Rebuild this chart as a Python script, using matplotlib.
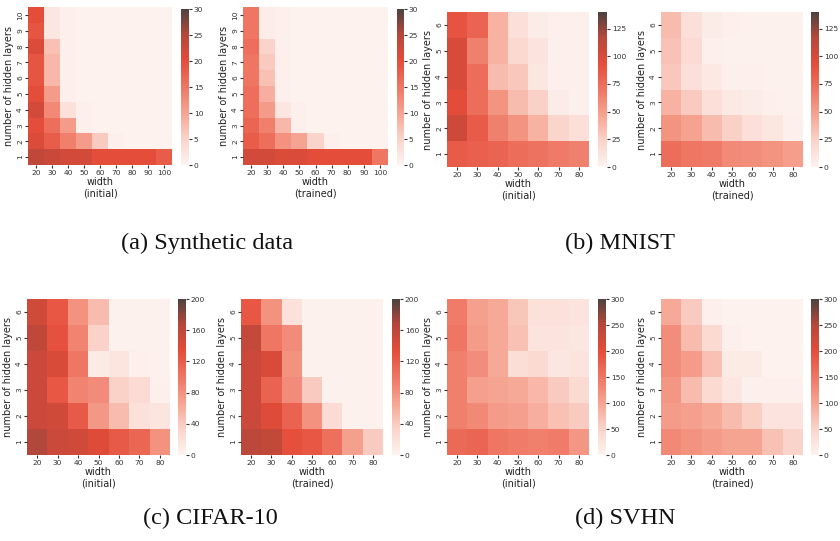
import numpy as np
import pandas as pd
import matplotlib
matplotlib.use("Agg")
import matplotlib.pyplot as plt
import seaborn as sns
from matplotlib.colors import LinearSegmentedColormap

# ---------------- data ----------------
syn_widths = [20, 30, 40, 50, 60, 70, 80, 90, 100]
syn_layers = [1, 2, 3, 4, 5, 6, 7, 8, 9, 10]
# rows = layers 1..10, cols = widths
syn_initial = [
    [24, 23, 22, 22, 20, 20, 20, 20, 18],
    [21, 18, 14, 11, 6, 0.5, 0.3, 0.3, 0.3],
    [20, 16, 11, 0.5, 0.3, 0.3, 0.3, 0.3, 0.3],
    [22, 13, 3, 0.5, 0.3, 0.3, 0.3, 0.3, 0.3],
    [20, 11, 0.5, 0.3, 0.3, 0.3, 0.3, 0.3, 0.3],
    [19, 8, 0.5, 0.3, 0.3, 0.3, 0.3, 0.3, 0.3],
    [19, 8, 0.5, 0.3, 0.3, 0.3, 0.3, 0.3, 0.3],
    [21, 7, 0.5, 0.3, 0.3, 0.3, 0.3, 0.3, 0.3],
    [19, 2, 0.5, 0.3, 0.3, 0.3, 0.3, 0.3, 0.3],
    [20, 2, 0.5, 0.3, 0.3, 0.3, 0.3, 0.3, 0.3],
]
syn_trained = [
    [22, 22, 21, 21, 20, 20, 20, 20, 15],
    [18, 16, 12, 10, 5, 0.5, 0.3, 0.3, 0.3],
    [17, 14, 8, 0.5, 0.3, 0.3, 0.3, 0.3, 0.3],
    [16, 11, 2, 0.5, 0.3, 0.3, 0.3, 0.3, 0.3],
    [16, 9, 0.5, 0.3, 0.3, 0.3, 0.3, 0.3, 0.3],
    [15, 7, 0.5, 0.3, 0.3, 0.3, 0.3, 0.3, 0.3],
    [15, 6, 0.5, 0.3, 0.3, 0.3, 0.3, 0.3, 0.3],
    [16, 5, 0.5, 0.3, 0.3, 0.3, 0.3, 0.3, 0.3],
    [15, 1, 0.5, 0.3, 0.3, 0.3, 0.3, 0.3, 0.3],
    [15, 1, 0.5, 0.3, 0.3, 0.3, 0.3, 0.3, 0.3],
]

widths = [20, 30, 40, 50, 60, 70, 80]
layers = [1, 2, 3, 4, 5, 6]
mnist_initial = [
    [85, 82, 80, 75, 72, 68, 65],
    [105, 85, 65, 55, 40, 22, 15],
    [95, 75, 55, 35, 25, 5, 3],
    [100, 75, 35, 30, 10, 3, 3],
    [100, 65, 40, 20, 12, 3, 3],
    [90, 80, 40, 15, 5, 3, 3],
]
mnist_trained = [
    [75, 70, 68, 60, 58, 55, 50],
    [55, 48, 35, 25, 15, 10, 3],
    [40, 28, 15, 8, 5, 3, 2],
    [30, 15, 8, 3, 3, 2, 2],
    [32, 18, 3, 2, 2, 2, 2],
    [35, 15, 5, 3, 2, 2, 2],
]
cifar_initial = [
    [168, 152, 148, 138, 122, 112, 80],
    [152, 148, 122, 75, 50, 20, 15],
    [152, 125, 90, 85, 35, 25, 5],
    [152, 142, 100, 10, 15, 5, 3],
    [160, 130, 90, 35, 3, 3, 3],
    [148, 125, 80, 50, 3, 3, 3],
]
cifar_trained = [
    [162, 158, 132, 125, 105, 70, 40],
    [152, 138, 115, 80, 25, 3, 3],
    [152, 115, 85, 40, 3, 3, 3],
    [152, 142, 80, 3, 3, 3, 3],
    [157, 100, 85, 3, 3, 3, 3],
    [125, 80, 20, 3, 3, 3, 3],
]
svhn_initial = [
    [165, 170, 150, 145, 140, 145, 115],
    [140, 130, 110, 105, 90, 70, 60],
    [140, 105, 100, 95, 80, 60, 40],
    [140, 125, 95, 35, 40, 20, 25],
    [150, 110, 95, 70, 25, 25, 20],
    [145, 105, 95, 65, 30, 30, 25],
]
svhn_trained = [
    [130, 120, 110, 100, 100, 70, 50],
    [110, 105, 95, 75, 55, 25, 25],
    [115, 75, 40, 20, 5, 5, 5],
    [125, 110, 70, 15, 15, 3, 3],
    [125, 75, 40, 5, 3, 3, 3],
    [95, 60, 5, 3, 3, 3, 3],
]

captions = ["(a) Synthetic data", "(b) MNIST", "(c) CIFAR-10", "(d) SVHN"]

# ---------------- style ----------------
cmap = LinearSegmentedColormap.from_list(
    "custom_reds",
    [(0.0, "#fdf3f0"), (0.17, "#fad3c9"), (0.33, "#f6a593"), (0.5, "#ee7663"),
     (0.67, "#e44c39"), (0.84, "#b4473b"), (1.0, "#4c423f")])

W, H = 840, 541
fig = plt.figure(figsize=(W / 100, H / 100), dpi=100)

def px(x0, y0, x1, y1):
    return [x0 / W, 1 - y1 / H, (x1 - x0) / W, (y1 - y0) / H]

panels = [
    (syn_initial, syn_widths, syn_layers, 30, [0, 5, 10, 15, 20, 25, 30], "initial", (28, 7, 172, 165), (181, 9, 189, 165)),
    (syn_trained, syn_widths, syn_layers, 30, [0, 5, 10, 15, 20, 25, 30], "trained", (243, 7, 388, 165), (397, 9, 404, 165)),
    (mnist_initial, widths, layers, 140, [0, 25, 50, 75, 100, 125], "initial", (447, 12, 589, 167), (598, 12, 607, 167)),
    (mnist_trained, widths, layers, 140, [0, 25, 50, 75, 100, 125], "trained", (661, 12, 803, 167), (811, 12, 819, 167)),
    (cifar_initial, widths, layers, 200, [0, 40, 80, 120, 160, 200], "initial", (27, 299, 170, 455), (178, 299, 186, 455)),
    (cifar_trained, widths, layers, 200, [0, 40, 80, 120, 160, 200], "trained", (241, 299, 383, 455), (392, 299, 400, 455)),
    (svhn_initial, widths, layers, 300, [0, 50, 100, 150, 200, 250, 300], "initial", (447, 299, 589, 455), (598, 299, 606, 455)),
    (svhn_trained, widths, layers, 300, [0, 50, 100, 150, 200, 250, 300], "trained", (661, 299, 803, 455), (811, 299, 819, 455)),
]

tick_col = "#333333"
for data, xl, yl, vmax, cbt, sub, hb, cb in panels:
    ax = fig.add_axes(px(*hb))
    cax = fig.add_axes(px(*cb))
    df = pd.DataFrame(data, index=yl, columns=xl)
    sns.heatmap(df, ax=ax, cbar_ax=cax, cmap=cmap, vmin=0, vmax=vmax,
                cbar_kws={"ticks": cbt})
    ax.invert_yaxis()
    ax.set_xlabel("width\n(%s)" % sub, fontsize=7, color="#222222", labelpad=1, linespacing=1.1)
    ax.set_ylabel("number of hidden layers", fontsize=7, color="#222222", labelpad=2)
    ax.tick_params(axis="both", labelsize=5.4, length=2, width=0.8, pad=1.5, colors=tick_col)
    ax.set_yticklabels([str(v) for v in yl], rotation=90, va="center")
    ax.set_xticklabels([str(v) for v in xl], rotation=0)
    cax.tick_params(labelsize=5.4, length=2, width=0.8, pad=1.5, colors=tick_col)

cap_pos = [(207, 243), (620, 243), (210, 518), (625, 518)]
for txt, (cx, cy) in zip(captions, cap_pos):
    fig.text(cx / W, 1 - cy / H, txt, ha="center", va="center",
             fontsize=17.5, family="Liberation Serif", color="#111111")

fig.savefig("out.png", dpi=100)
